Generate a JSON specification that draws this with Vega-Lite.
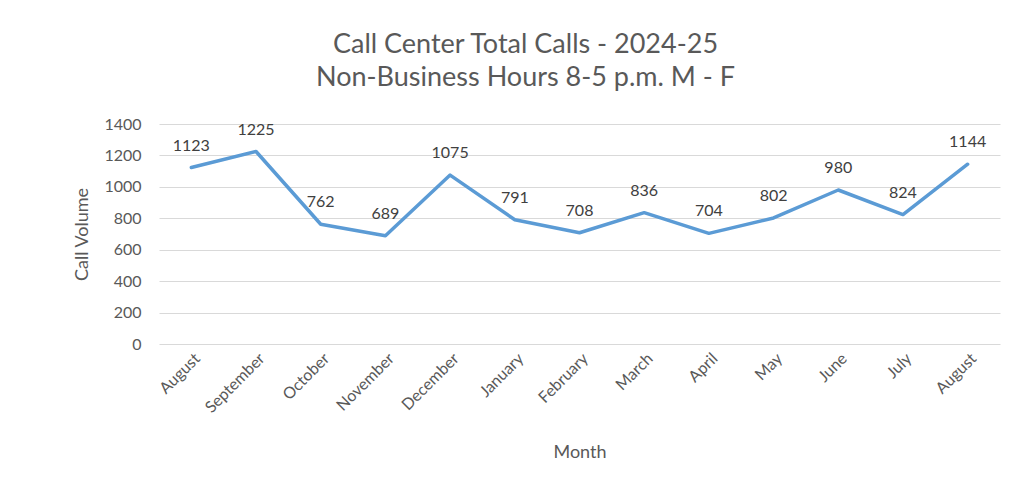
{
  "$schema": "https://vega.github.io/schema/vega-lite/v6.json",
  "width": 841,
  "height": 220,
  "autosize": "none",
  "padding": {"left": 159, "top": 124, "right": 20, "bottom": 136},
  "background": "white",
  "title": {
    "text": ["Call Center Total Calls - 2024-25", "Non-Business Hours 8-5 p.m. M - F"],
    "font": "Lato",
    "fontSize": 27,
    "fontWeight": "normal",
    "color": "#595959",
    "lineHeight": 33,
    "anchor": "middle",
    "dx": -54,
    "offset": 24
  },
  "data": {
    "values": [
      {"month": "August 2024", "calls": 1123},
      {"month": "September", "calls": 1225},
      {"month": "October", "calls": 762},
      {"month": "November", "calls": 689},
      {"month": "December", "calls": 1075},
      {"month": "January", "calls": 791},
      {"month": "February", "calls": 708},
      {"month": "March", "calls": 836},
      {"month": "April", "calls": 704},
      {"month": "May", "calls": 802},
      {"month": "June", "calls": 980},
      {"month": "July", "calls": 824},
      {"month": "August 2025", "calls": 1144}
    ]
  },
  "encoding": {
    "x": {
      "field": "month",
      "type": "nominal",
      "sort": null,
      "scale": {"paddingInner": 0, "paddingOuter": 0.5},
      "axis": {
        "title": "Month",
        "titleFont": "Lato",
        "titleFontSize": 18,
        "titleFontWeight": "normal",
        "titleColor": "#595959",
        "titlePadding": 28,
        "labelExpr": "split(datum.label, ' ')[0]",
        "labelAngle": -45,
        "labelFont": "Lato",
        "labelFontSize": 16,
        "labelColor": "#595959",
        "labelPadding": 6,
        "domain": false,
        "ticks": false,
        "grid": false
      }
    },
    "y": {
      "field": "calls",
      "type": "quantitative",
      "scale": {"domain": [0, 1400]},
      "axis": {
        "title": "Call Volume",
        "titleFont": "Lato",
        "titleFontSize": 18,
        "titleFontWeight": "normal",
        "titleColor": "#595959",
        "titlePadding": 12,
        "format": "d",
        "values": [0, 200, 400, 600, 800, 1000, 1200, 1400],
        "labelFont": "Lato",
        "labelFontSize": 16,
        "labelColor": "#595959",
        "labelPadding": 18,
        "domain": false,
        "ticks": false,
        "grid": true,
        "gridColor": "#D9D9D9",
        "gridWidth": 1
      }
    }
  },
  "layer": [
    {
      "mark": {"type": "line", "color": "#5B9BD5", "strokeWidth": 3.5, "strokeCap": "round", "strokeJoin": "round"}
    },
    {
      "mark": {"type": "text", "dy": -22, "font": "Lato", "fontSize": 16, "color": "#404040"},
      "encoding": {"text": {"field": "calls", "type": "quantitative"}}
    }
  ],
  "config": {"view": {"stroke": null}}
}
